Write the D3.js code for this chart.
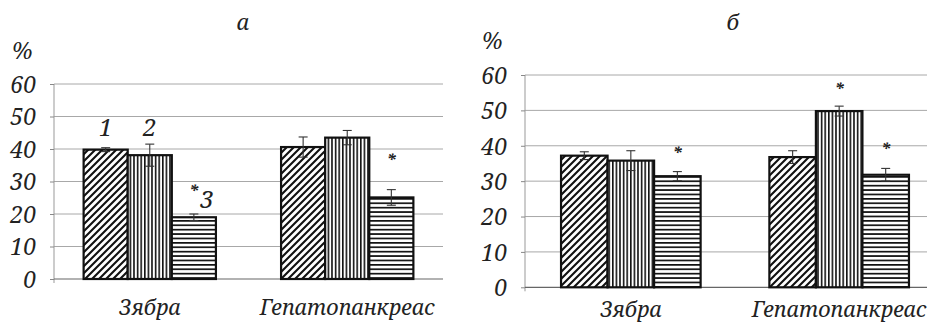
<!DOCTYPE html>
<html><head><meta charset="utf-8">
<script src="https://cdn.jsdelivr.net/npm/d3@7"></script>
<style>
html,body{margin:0;padding:0;background:#fff;}
svg text{font-family:"Noto Serif","Liberation Serif",serif;font-style:italic;fill:#222;}
</style></head>
<body><svg id="c" width="927" height="323"></svg>
<script>
// ---- data ----
const categories = ["Зябра", "Гепатопанкреас"];
const yTicks = [0, 10, 20, 30, 40, 50, 60];
const seriesNames = ["1", "2", "3"];

// panel а
const a_s1 = [39.8, 40.6];
const a_s2 = [38.1, 43.5];
const a_s3 = [19.0, 25.1];
const a_e1 = [0.6, 3.1];
const a_e2 = [3.4, 2.2];
const a_e3 = [1.0, 2.4];
// significance stars: [seriesIndex, categoryIndex, level]
const a_stars = [[2, 0, 28], [2, 1, 37.5]];

// panel б
const b_s1 = [37.2, 36.8];
const b_s2 = [35.8, 49.8];
const b_s3 = [31.4, 31.8];
const b_e1 = [1.1, 1.8];
const b_e2 = [2.8, 1.4];
const b_e3 = [1.3, 1.8];
const b_stars = [[2, 0, 38.7], [1, 1, 57], [2, 1, 40]];

const FONT = "Noto Serif";
const svg = d3.select("#c");
const defs = svg.append("defs");

// patterns
const pDiag = defs.append("pattern").attr("id","pDiag").attr("patternUnits","userSpaceOnUse")
  .attr("width",7).attr("height",7);
pDiag.append("rect").attr("width",7).attr("height",7).attr("fill","#fff");
pDiag.append("path").attr("d","M-1,8 L8,-1 M-4.5,4.5 L4.5,-4.5 M2.5,11.5 L11.5,2.5")
  .attr("stroke","#111").attr("stroke-width",2.1);

const pVert = defs.append("pattern").attr("id","pVert").attr("patternUnits","userSpaceOnUse")
  .attr("width",3.6).attr("height",4);
pVert.append("rect").attr("width",3.6).attr("height",4).attr("fill","#fff");
pVert.append("rect").attr("x",0).attr("width",1.6).attr("height",4).attr("fill","#111");

const pHor = defs.append("pattern").attr("id","pHor").attr("patternUnits","userSpaceOnUse")
  .attr("width",4).attr("height",4.4);
pHor.append("rect").attr("width",4).attr("height",4.4).attr("fill","#fff");
pHor.append("rect").attr("y",0).attr("width",4).attr("height",1.7).attr("fill","#111");

const fills = ["url(#pDiag)", "url(#pVert)", "url(#pHor)"];

function drawPanel(cfg) {
  const g = svg.append("g");
  const y = d3.scaleLinear().domain([0, 60]).range([cfg.y0, cfg.y60]);
  const x0 = d3.scaleBand().domain(categories).range([cfg.xl, cfg.xr])
    .paddingInner(0.33).paddingOuter(cfg.po);
  const x1 = d3.scaleBand().domain(seriesNames).range([0, x0.bandwidth()]);

  // gridlines
  g.append("g").selectAll("line").data(yTicks.filter(d => d > 0)).join("line")
    .attr("x1", cfg.xl).attr("x2", cfg.gridEnd)
    .attr("y1", d => y(d)).attr("y2", d => y(d))
    .attr("stroke", "#a8a8a8").attr("stroke-width", 1);

  // y axis
  const ax = g.append("g").attr("transform", `translate(${cfg.xl},0)`)
    .call(d3.axisLeft(y).tickValues(yTicks).tickSize(4).tickPadding(cfg.tickPad).tickFormat(d3.format("d")));
  ax.select(".domain").attr("stroke", "#999").attr("d", `M0,${y(0)+4}V${y(60)}`);
  ax.selectAll(".tick line").attr("stroke", "#888");
  ax.selectAll(".tick text").attr("font-family", FONT).attr("font-style", "italic")
    .attr("font-size", 23).attr("fill", "#222").attr("dy", "0.36em");

  // baseline
  g.append("line").attr("x1", cfg.xl).attr("x2", cfg.gridEnd).attr("y1", y(0)).attr("y2", y(0))
    .attr("stroke", "#666").attr("stroke-width", 1.2);

  const series = [cfg.s1, cfg.s2, cfg.s3];
  const errs = [cfg.e1, cfg.e2, cfg.e3];
  const rows = [];
  series.forEach((vals, si) => vals.forEach((v, ci) => rows.push({si, ci, v, e: errs[si][ci]})));

  const bx = d => x0(categories[d.ci]) + x1(seriesNames[d.si]);

  g.append("g").selectAll("rect").data(rows).join("rect")
    .attr("x", bx).attr("width", x1.bandwidth())
    .attr("y", d => y(d.v)).attr("height", d => y(0) - y(d.v))
    .attr("fill", d => fills[d.si]).attr("stroke", "#111").attr("stroke-width", 2.2);

  // error bars
  const eg = g.append("g").attr("stroke", "#333").attr("stroke-width", 1.1);
  rows.forEach(d => {
    const cx = bx(d) + x1.bandwidth() / 2;
    eg.append("line").attr("x1", cx).attr("x2", cx).attr("y1", y(d.v + d.e)).attr("y2", y(d.v - d.e));
    eg.append("line").attr("x1", cx - 4.5).attr("x2", cx + 4.5).attr("y1", y(d.v + d.e)).attr("y2", y(d.v + d.e));
    eg.append("line").attr("x1", cx - 4.5).attr("x2", cx + 4.5).attr("y1", y(d.v - d.e)).attr("y2", y(d.v - d.e));
  });

  // stars
  g.append("g").selectAll("text").data(cfg.stars).join("text")
    .attr("x", d => x0(categories[d[1]]) + x1(seriesNames[d[0]]) + x1.bandwidth() / 2)
    .attr("y", d => y(d[2]) + 9)
    .attr("text-anchor", "middle").attr("font-size", 17).attr("font-style", "normal")
    .attr("font-weight", "bold").text("*");

  // category labels
  g.append("g").selectAll("text").data(categories).join("text")
    .attr("x", d => x0(d) + x0.bandwidth() / 2).attr("y", cfg.catY)
    .attr("text-anchor", "middle").attr("font-size", 21.5).text(d => d);

  // title and %
  g.append("text").attr("x", cfg.titleX).attr("y", 30).attr("text-anchor", "middle")
    .attr("font-size", 22).text(cfg.title);
  g.append("text").attr("x", cfg.pctX).attr("y", cfg.pctY).attr("font-size", 23).text("%");

  return {x0, x1, y};
}

const A = drawPanel({
  xl: 54, xr: 443, gridEnd: 443, po: 0.15, y0: 279, y60: 84, tickPad: 14,
  s1: a_s1, s2: a_s2, s3: a_s3, e1: a_e1, e2: a_e2, e3: a_e3, stars: a_stars,
  catY: 315, title: "а", titleX: 243, pctX: 12, pctY: 59
});

// series labels in panel а
const lblPos = [[0, 0, 44], [1, 0, 44], [2, 0, 20]];
svg.append("g").selectAll("text").data(lblPos).join("text")
  .attr("x", d => A.x0(categories[d[1]]) + A.x1(seriesNames[d[0]]) + A.x1.bandwidth() / 2 + (d[0] === 2 ? 13 : 0))
  .attr("y", d => A.y(d[2]) + (d[0] === 2 ? -6 : 0))
  .attr("text-anchor", "middle").attr("font-size", 24).text(d => seriesNames[d[0]]);

drawPanel({
  xl: 525, xr: 945, gridEnd: 927, po: 0.173, y0: 287.3, y60: 75, tickPad: 14,
  s1: b_s1, s2: b_s2, s3: b_s3, e1: b_e1, e2: b_e2, e3: b_e3, stars: b_stars,
  catY: 317, title: "б", titleX: 733, pctX: 482, pctY: 49
});
</script></body></html>
